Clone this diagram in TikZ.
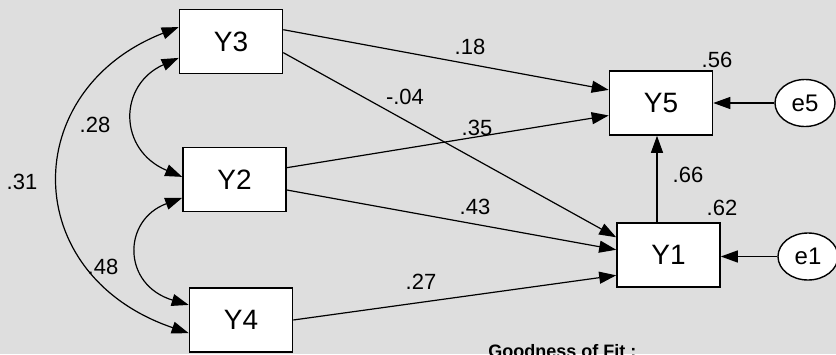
\documentclass[tikz,border=0pt]{standalone}
\usepackage{fontspec}
\setmainfont{Liberation Sans}
\definecolor{scangray}{RGB}{222, 222, 222}
\usepackage{tikz}
\usetikzlibrary{shapes.geometric, arrows.meta, positioning, calc}

\begin{document}
\begin{tikzpicture}[x=0.5pt, y=-0.5pt,
    var/.style={draw, line width=0.8pt, fill=white, minimum width=51.5pt, minimum height=32pt, inner sep=0pt, font=\fontsize{14}{16}\selectfont},
    err/.style={ellipse, draw, line width=0.7pt, fill=white, minimum width=30pt, minimum height=23.5pt, inner sep=0pt, font=\fontsize{12}{14}\selectfont},
    path/.style={line width=0.6pt, -{Triangle[length=8.5pt, width=6pt]}},
    cov/.style={line width=0.6pt, {Triangle[length=8.5pt, width=6pt]}-{Triangle[length=8.5pt, width=6pt]}},
    coef/.style={font=\fontsize{11}{13}\selectfont, inner sep=1pt}]
  \useasboundingbox (0,0) rectangle (836,354);
  \fill[scangray] (0,0) rectangle (836,354);

  % observed variables
  \node[var] (y3) at (231,41.5) {Y3};
  \node[var] (y2) at (234.5,179.5) {Y2};
  \node[var] (y4) at (241,320) {Y4};
  \node[var] (y5) at (661,103) {Y5};
  \node[var] (y1) at (668.5,255) {Y1};
  % error terms
  \node[err] (e5) at (805,103) {e5};
  \node[err] (e1) at (808,256.5) {e1};

  % correlations
  \draw[cov] ($(y3.north west)!0.75!(y3.south west)$) .. controls (118,85) and (118,150) .. ($(y2.north west)!0.46!(y2.south west)$);
  \draw[cov] ($(y2.north west)!0.78!(y2.south west)$) .. controls (122,220) and (122,285) .. ($(y4.north west)!0.27!(y4.south west)$);
  \draw[cov] ($(y3.north west)!0.28!(y3.south west)$) .. controls (18,90) and (18,275) .. ($(y4.north west)!0.70!(y4.south west)$);

  % direct effects
  \draw[path] ($(y3.north east)!0.32!(y3.south east)$) -- ($(y5.north west)!0.30!(y5.south west)$);
  \draw[path] ($(y3.north east)!0.67!(y3.south east)$) -- ($(y1.north west)!0.23!(y1.south west)$);
  \draw[path] ($(y2.north east)!0.32!(y2.south east)$) -- ($(y5.north west)!0.69!(y5.south west)$);
  \draw[path] ($(y2.north east)!0.66!(y2.south east)$) -- ($(y1.north west)!0.42!(y1.south west)$);
  \draw[path] (y4.east) -- ($(y1.north west)!0.81!(y1.south west)$);
  \coordinate (up) at ($(y1.north west)!0.39!(y1.north east)$);
  \draw[path] (up) -- (up |- y5.south);
  \draw[path] (e5) -- (y5);
  \draw[path] (e1.west) -- (e1.west -| y1.east);

  % estimates
  \node[coef] (c18) at (470,47) {.18};
  \node[coef] (c04) at (405,97) {-.04};
  \node[coef] (c35) at (477,128) {.35};
  \node[coef] (c43) at (475,207) {.43};
  \node[coef] (c27) at (421,282) {.27};
  \node[coef] (c66) at (688,175) {.66};
  \node[coef] (c56) at (717,60) {.56};
  \node[coef] (c62) at (722,208) {.62};
  \node[coef] (c28) at (95,125) {.28};
  \node[coef] (c31) at (22,182) {.31};
  \node[coef] (c48) at (103,267) {.48};

  \node[anchor=north west, inner sep=0pt, font=\bfseries\fontsize{9}{10}\selectfont] (gof) at (488,344) {Goodness of Fit :};
\end{tikzpicture}
\end{document}
